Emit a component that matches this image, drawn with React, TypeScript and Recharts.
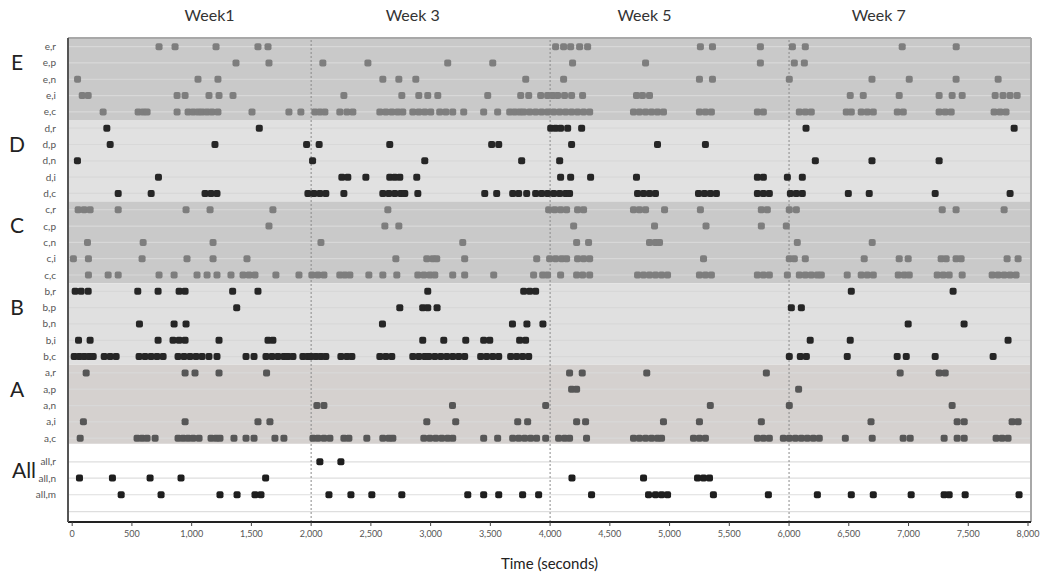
import { ScatterChart, Scatter, XAxis, YAxis, ReferenceArea, ReferenceLine, Label } from 'recharts';

// rows top to bottom
const ROW_LABELS = [
  'e,r', 'e,p', 'e,n', 'e,i', 'e,c',
  'd,r', 'd,p', 'd,n', 'd,i', 'd,c',
  'c,r', 'c,p', 'c,n', 'c,i', 'c,c',
  'b,r', 'b,p', 'b,n', 'b,i', 'b,c',
  'a,r', 'a,p', 'a,n', 'a,i', 'a,c',
  'all,r', 'all,n', 'all,m',
];
const ROW_Y = [
  0, 1, 2, 3, 4, 5, 6, 7, 8, 9, 10, 11, 12, 13, 14,
  15, 16, 17, 18, 19, 20, 21, 22, 23, 24, 25.45, 26.45, 27.47,
];
const GROUP_NAMES = ['E', 'D', 'C', 'B', 'A', 'All'];
const GROUP_LABEL_ROW = [1, 6, 11, 16, 21, 25];
const WEEK_LABELS = ['Week1', 'Week 3', 'Week 5', 'Week 7'];
const WEEK_POS = [1150, 2850, 4790, 6750];
const X_TICKS = [0, 500, 1000, 1500, 2000, 2500, 3000, 3500, 4000, 4500, 5000, 5500, 6000, 6500, 7000, 7500, 8000];
const WEEK_LINES = [2000, 4000, 6000];

// event times (seconds) per row
const E_R = [727, 861, 1204, 1555, 1639, 4046, 4113, 4172, 4247, 4314, 5258, 5359, 5760, 6028, 6136, 6947, 7399];
const E_P = [1371, 1647, 2098, 2475, 3143, 3520, 4188, 4799, 5760, 6044, 6128];
const E_N = [45, 1053, 1220, 2600, 2734, 2876, 3796, 4113, 5250, 5359, 6002, 6694, 7006, 7398, 7750];
const E_I = [84, 134, 878, 945, 1145, 1229, 1346, 2274, 2759, 2901, 2976, 3060, 3478, 3754, 3821, 3921, 3979, 4021, 4063, 4121, 4180, 4272, 4723, 4773, 4832, 6512, 6621, 6922, 7256, 7365, 7449, 7725, 7791, 7850, 7909];
const E_C = [259, 552, 594, 627, 878, 970, 1012, 1053, 1087, 1129, 1170, 1220, 1505, 1814, 1914, 2031, 2073, 2115, 2240, 2299, 2349, 2575, 2625, 2675, 2725, 2767, 2851, 2901, 2951, 3001, 3076, 3127, 3185, 3277, 3444, 3561, 3662, 3703, 3745, 3779, 3829, 3879, 3929, 3979, 4030, 4080, 4130, 4180, 4230, 4280, 4331, 4698, 4748, 4799, 4849, 4899, 4949, 5250, 5300, 5350, 5735, 5785, 6086, 6136, 6186, 6479, 6521, 6604, 6655, 6705, 6906, 6956, 7256, 7307, 7357, 7716, 7766, 7816];

const D_R = [290, 1566, 4005, 4046, 4088, 4147, 4264, 6142, 7884];
const D_P = [318, 1195, 1962, 2067, 2658, 3511, 3570, 4180, 4899, 5300];
const D_N = [44, 2012, 2951, 3762, 4080, 6220, 6694, 7256];
const D_I = [722, 2257, 2307, 2458, 2658, 2700, 2742, 2884, 4088, 4172, 4339, 4723, 5735, 5785, 5986, 6111];
const D_C = [385, 661, 1112, 1162, 1212, 1973, 2023, 2073, 2123, 2274, 2600, 2650, 2700, 2750, 2784, 2893, 3453, 3553, 3687, 3737, 3804, 3879, 3929, 3979, 4030, 4080, 4130, 4163, 4732, 4782, 4832, 4882, 5242, 5292, 5342, 5392, 5735, 5785, 5835, 6011, 6061, 6111, 6496, 6671, 7223, 7850];

const C_R = [50, 100, 150, 385, 953, 1154, 1680, 2642, 3988, 4038, 4088, 4138, 4230, 4280, 4698, 4748, 4799, 4958, 5258, 5768, 5818, 6002, 6061, 7282, 7398, 7800];
const C_P = [1647, 2617, 2734, 4197, 4874, 5305, 5768, 5977];
const C_N = [128, 594, 1179, 2082, 3269, 4222, 4322, 4832, 4882, 4916, 6069, 6696];
const C_I = [10, 136, 585, 961, 1179, 1463, 2709, 2968, 3018, 3051, 3285, 3888, 3996, 4046, 4097, 4138, 4230, 4280, 4331, 5284, 6002, 6044, 6136, 6629, 6922, 6997, 7273, 7315, 7398, 7440, 7825, 7917];
const C_C = [136, 301, 385, 727, 853, 1045, 1129, 1212, 1329, 1430, 1480, 1530, 1705, 1898, 2006, 2057, 2107, 2240, 2282, 2324, 2483, 2600, 2717, 2893, 2943, 2993, 3035, 3185, 3285, 3528, 3862, 3938, 3979, 4088, 4222, 4272, 4331, 4732, 4782, 4832, 4882, 4933, 4983, 5250, 5300, 5350, 5735, 5785, 5835, 5986, 6086, 6136, 6186, 6237, 6270, 6487, 6604, 6655, 6705, 6914, 6964, 7006, 7240, 7290, 7340, 7449, 7700, 7750, 7800, 7850, 7900];

const B_R = [25, 75, 134, 549, 719, 895, 945, 1343, 1555, 2976, 3779, 3829, 3879, 6521, 7373];
const B_P = [1377, 2742, 2934, 2976, 3054, 6019, 6103];
const B_N = [563, 853, 953, 2597, 3685, 3806, 3940, 6997, 7465];
const B_I = [53, 150, 719, 844, 895, 945, 1229, 1639, 1680, 2934, 3110, 3294, 3444, 3495, 3745, 3795, 6177, 6512, 7833];
const B_C = [17, 59, 100, 142, 176, 268, 318, 368, 560, 610, 660, 710, 761, 886, 936, 986, 1037, 1087, 1145, 1212, 1455, 1522, 1622, 1672, 1722, 1772, 1806, 1848, 1931, 1973, 1998, 2040, 2082, 2123, 2249, 2299, 2341, 2575, 2625, 2675, 2851, 2901, 2951, 2985, 3035, 3085, 3135, 3185, 3235, 3285, 3419, 3469, 3520, 3570, 3670, 3720, 3770, 3821, 6002, 6094, 6145, 6487, 6905, 6981, 7223, 7708];

const A_R = [117, 945, 1028, 1229, 1627, 4163, 4269, 4809, 5810, 6930, 7256, 7307];
const A_P = [4180, 4222, 6080];
const A_N = [2048, 2107, 3183, 3963, 5341, 6002, 7365];
const A_I = [94, 945, 1555, 1655, 2968, 3210, 3729, 3812, 4222, 4297, 4949, 5250, 5768, 6686, 7407, 7466, 7867, 7917];
const A_C = [67, 543, 585, 627, 694, 886, 928, 970, 1012, 1062, 1162, 1204, 1237, 1354, 1455, 1522, 1697, 1772, 2015, 2057, 2107, 2157, 2274, 2316, 2466, 2600, 2650, 2684, 2943, 2993, 3043, 3093, 3143, 3185, 3444, 3561, 3687, 3737, 3787, 3837, 3887, 3963, 4071, 4121, 4163, 4305, 4698, 4748, 4799, 4849, 4899, 4933, 5200, 5250, 5300, 5735, 5785, 5835, 5952, 6002, 6053, 6103, 6153, 6203, 6253, 6471, 6696, 6955, 7014, 7298, 7407, 7466, 7733, 7783, 7833];

const ALL_R = [2073, 2249];
const ALL_N = [61, 337, 652, 911, 1619, 4183, 4782, 5234, 5284, 5334];
const ALL_M = [410, 744, 1237, 1380, 1530, 1580, 2149, 2333, 2508, 2759, 3311, 3444, 3570, 3770, 3904, 4347, 4824, 4882, 4933, 4983, 5367, 5827, 6237, 6521, 6705, 7022, 7298, 7340, 7474, 7925];

const SERIES = [
  E_R, E_P, E_N, E_I, E_C,
  D_R, D_P, D_N, D_I, D_C,
  C_R, C_P, C_N, C_I, C_C,
  B_R, B_P, B_N, B_I, B_C,
  A_R, A_P, A_N, A_I, A_C,
  ALL_R, ALL_N, ALL_M,
];

const BAND_FILL = ['#c9c9c9', '#e1e1e1', '#c9c9c9', '#e0e0e0', '#d5d1cf'];
const DOT_FILL = ['#7e7e7e', '#262626', '#7e7e7e', '#262626', '#575757', '#1e1e1e'];
const Y_MIN = -0.53;
const Y_MAX = 29.14;
const FONT = 'Lato, "Open Sans", sans-serif';

const groupOf = (i: number) => Math.min(Math.floor(i / 5), 5);

const RowTick = (props: any) => {
  const { x, y, payload } = props;
  const i = ROW_Y.indexOf(payload.value);
  if (i < 0) return null;
  const g = groupOf(i);
  const isAll = g === 5;
  return (
    <g>
      <text x={x - 4} y={y} dy="0.35em" textAnchor="end" fontSize={10} fill="#555" fontFamily={FONT}>
        {ROW_LABELS[i]}
      </text>
      {GROUP_LABEL_ROW[g] === i && (
        <text x={isAll ? 24 : 17} y={isAll ? y + 9 : y} dy="0.35em" textAnchor="middle" fontSize={21} fill="#222" fontFamily={FONT}>
          {GROUP_NAMES[g]}
        </text>
      )}
    </g>
  );
};

const WeekTick = (props: any) => {
  const { x, payload } = props;
  const i = WEEK_POS.indexOf(payload.value);
  if (i < 0) return null;
  return (
    <text x={x} y={15} dy="0.35em" textAnchor="middle" fontSize={16} fill="#333" fontFamily={FONT}>
      {WEEK_LABELS[i]}
    </text>
  );
};

const makeShape = (fill: string) => (p: any) => (
  <rect x={p.cx - 3.5} y={p.cy - 3.5} width={7} height={7} rx={2} fill={fill} />
);

export default function App() {
  return (
    <div style={{ position: 'absolute', left: 0, top: 0, width: 1043, height: 573, background: '#fff' }}>
      <ScatterChart width={1043} height={573} margin={{ top: 0, right: 12, bottom: 0, left: 0 }}>
        <XAxis
          type="number"
          dataKey="t"
          domain={[-35, 8025]}
          allowDataOverflow
          ticks={X_TICKS}
          tickFormatter={(v: number) => v.toLocaleString('en-US')}
          tick={{ fontSize: 9, fill: '#555', fontFamily: FONT }}
          tickSize={4}
          tickMargin={5}
          tickLine={{ stroke: '#444' }}
          axisLine={{ stroke: '#222', strokeWidth: 2 }}
          height={51}
        >
          <Label value="Time (seconds)" position="insideBottom" offset={4} style={{ fontSize: 15, fill: '#222', fontFamily: FONT }} />
        </XAxis>
        <XAxis
          xAxisId="top"
          orientation="top"
          type="number"
          dataKey="t"
          domain={[-35, 8025]}
          allowDataOverflow
          ticks={WEEK_POS}
          interval={0}
          tick={<WeekTick />}
          axisLine={false}
          tickLine={false}
          height={38}
        />
        <YAxis
          type="number"
          dataKey="row"
          domain={[Y_MIN, Y_MAX]}
          allowDataOverflow
          reversed
          ticks={ROW_Y}
          interval={0}
          tick={<RowTick />}
          tickLine={false}
          axisLine={{ stroke: '#555', strokeWidth: 2 }}
          width={68}
        />
        {BAND_FILL.map((f, g) => (
          <ReferenceArea
            key={'band' + g}
            y1={g === 0 ? Y_MIN : g * 5 - 0.5}
            y2={g === 4 ? 24.35 : g * 5 + 4.5}
            fill={f}
            fillOpacity={1}
            stroke="none"
          />
        ))}
        {ROW_Y.concat([28.5]).map((y, i) => (
          <ReferenceLine key={'row' + i} y={y} stroke={i >= 25 ? '#dedede' : '#d8d8d8'} strokeWidth={1.2} />
        ))}
        {WEEK_LINES.map((x) => (
          <ReferenceLine key={'wk' + x} x={x} stroke="#8a8a8a" strokeDasharray="2 2" />
        ))}
        <ReferenceLine y={Y_MIN} stroke="#a8a8a8" strokeWidth={2} />
        <ReferenceLine x={8025} stroke="#a8a8a8" strokeWidth={2} />
        {SERIES.map((s, i) => (
          <Scatter
            key={ROW_LABELS[i]}
            name={ROW_LABELS[i]}
            data={s.map((t) => ({ t, row: ROW_Y[i] }))}
            shape={makeShape(DOT_FILL[groupOf(i)])}
            isAnimationActive={false}
          />
        ))}
        <Scatter
          xAxisId="top"
          data={WEEK_POS.map((t) => ({ t, row: Y_MIN }))}
          shape={() => <g />}
          isAnimationActive={false}
        />
      </ScatterChart>
    </div>
  );
}
